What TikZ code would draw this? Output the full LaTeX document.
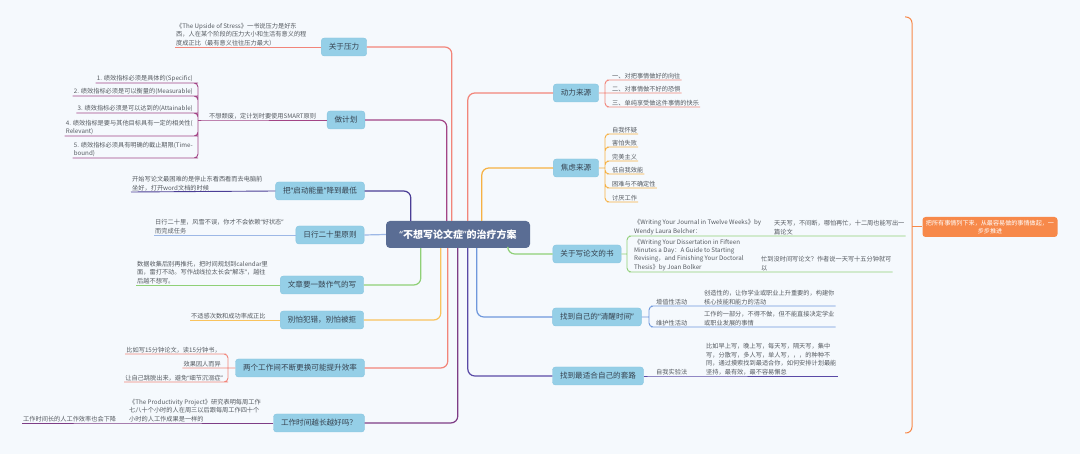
\documentclass[tikz,border=0pt]{standalone}
\usepackage{fontspec}
\setmainfont{Noto Sans CJK SC}
\newfontfamily\quotefont{Noto Sans}
\newcommand{\qopen}{{\quotefont “}}
\newcommand{\qclose}{{\quotefont ”}}
\usepackage{tikz}
\definecolor{bgcol}{HTML}{F5F9FD}
\definecolor{centerfill}{HTML}{5A6D94}
\definecolor{topicfill}{HTML}{95CFE7}
\definecolor{topicedge}{HTML}{86C4DF}
\definecolor{topictext}{HTML}{36424F}
\definecolor{leaftext}{HTML}{555A60}
\definecolor{salmonc}{HTML}{F2857A}
\definecolor{magentac}{HTML}{A24586}
\definecolor{navyc}{HTML}{4B3E96}
\definecolor{skyc}{HTML}{9DB8E6}
\definecolor{greenc}{HTML}{8FD077}
\definecolor{yellowc}{HTML}{F9C35E}
\definecolor{orangec}{HTML}{F6B143}
\definecolor{bluec}{HTML}{6F98DC}
\definecolor{indigoc}{HTML}{5A4AA6}
\definecolor{purplec}{HTML}{7E3D86}
\definecolor{sumc}{HTML}{F7894A}

\begin{document}
\begin{tikzpicture}[x=1pt,y=-1pt,
  topic/.style={fill=topicfill,draw=topicedge,line width=0.4pt,rounded corners=3pt,minimum height=18pt,inner xsep=7.5pt,inner ysep=2pt,text=topictext,font=\fontsize{7.6}{9}\selectfont},
  leaf/.style={inner sep=1pt,align=left,text=leaftext,font=\fontsize{6.2}{8.4}\selectfont},
  branch/.style={line width=1.2pt,rounded corners=7pt},
  twig/.style={line width=0.9pt,rounded corners=4pt}]
\fill[bgcol] (0,0) rectangle (1080,454);
\node[fill=centerfill,rounded corners=4pt,minimum width=144pt,minimum height=27pt,text=white,font=\fontsize{10}{12}\selectfont\bfseries] (c) at (458,234.5) {\qopen 不想写论文症\qclose 的治疗方案};

% left side
\node[topic] (yl) at (344,47) {关于压力};
\node[leaf,anchor=south west] (yl1) at (175,47) {《The Upside of Stress》一书说压力是好东\\西，人在某个阶段的压力大小和生活有意义的程\\度成正比（最有意义往往压力最大）};
\draw[branch,salmonc] ([xshift=66pt]c.north west) |- (yl.east);
\draw[twig,salmonc] (yl.west) -- (yl1.south west);

\node[topic] (jh) at (346,120) {做计划};
\node[leaf,anchor=south west] (j0) at (208,120) {不想颓废，定计划时要使用SMART原则};
\coordinate (jb) at (198,120);
\node[leaf,anchor=south east] (j1) at (194,83) {1. 绩效指标必须是具体的(Specific)};
\node[leaf,anchor=south east] (j2) at (194,96) {2. 绩效指标必须是可以衡量的(Measurable)};
\node[leaf,anchor=south east] (j3) at (194,113) {3. 绩效指标必须是可以达到的(Attainable)};
\node[leaf,anchor=south east] (j4) at (194,136) {4. 绩效指标是要与其他目标具有一定的相关性(\\Relevant)};
\node[leaf,anchor=south east] (j5) at (194,158) {5. 绩效指标必须具有明确的截止期限(Time-\\bound)};
\draw[branch,magentac] ([xshift=61pt]c.north west) |- (jh.east);
\draw[twig,magentac] (jh.west) -- (j0.south west) -- (jb);
\draw[twig,magentac] (jb) |- (j1.south east) -- (j1.south west) (jb) |- (j2.south east) -- (j2.south west)
  (jb) |- (j3.south east) -- (j3.south west) (jb) |- (j4.south east) -- (j4.south west)
  (jb) |- (j5.south east) -- (j5.south west);

\node[topic] (qd) at (320,191) {把\qopen 启动能量\qclose 降到最低};
\node[leaf,anchor=south west] (qd1) at (131,192) {开始写论文最困难的是停止东看西看而去电脑前\\坐好，打开word文档的时候};
\draw[branch,navyc] ([xshift=25pt]c.north west) |- (qd.east);
\draw[twig,navyc] (qd.west) -- (qd1.south west);

\node[topic] (rx) at (330,235) {日行二十里原则};
\node[leaf,anchor=south west] (rx1) at (154,235) {日行二十里，风雪不误，你才不会依赖\qopen 好状态\qclose\\而完成任务};
\draw[branch,skyc] (c.west) -- (rx.east);
\draw[twig,skyc] (rx.west) -- (rx1.south west);

\node[topic] (wz) at (322,285) {文章要一鼓作气的写};
\node[leaf,anchor=south west] (wz1) at (136,285) {数据收集后别再推托，把时间规划到calendar里\\面，雷打不动。写作战线拉太长会\qopen 解冻\qclose ，越往\\后越不想写。};
\draw[branch,greenc] ([xshift=35pt]c.south west) |- (wz.east);
\draw[twig,greenc] (wz.west) -- (wz1.south west);

\node[topic] (bp) at (322,320) {别怕犯错，别怕被拒};
\node[leaf,anchor=south west] (bp1) at (190,320) {不适感次数和成功率成正比};
\draw[branch,yellowc] ([xshift=55pt]c.south west) |- (bp.east);
\draw[twig,yellowc] (bp.west) -- (bp1.south west);

\node[topic] (lg) at (300,368) {两个工作间不断更换可能提升效率};
\coordinate (lb) at (228,368);
\node[leaf,anchor=south east] (lg1) at (222,354) {比如写15分钟论文，读15分钟书，};
\node[leaf,anchor=south east] (lg2) at (222,368) {效果因人而异};
\node[leaf,anchor=south east] (lg3) at (224,382) {让自己跳脱出来，避免\qopen 细节沉溺症\qclose};
\draw[branch,salmonc] ([xshift=62pt]c.south west) |- (lg.east);
\draw[twig,salmonc] (lg.west) -- (lb) (lb) |- (lg1.south east) -- (lg1.south west)
  (lb) -- (lg2.south east) -- (lg2.south west) (lb) |- (lg3.south east) -- (lg3.south west);

\node[topic] (gz) at (319,423) {工作时间越长越好吗？};
\node[leaf,anchor=south west] (gz1) at (128,423) {《The Productivity Project》研究表明每周工作\\七八十个小时的人在周三以后跟每周工作四十个\\小时的人工作成果是一样的};
\node[leaf,anchor=south west] (gz2) at (22,423) {工作时间长的人工作效率也会下降};
\draw[branch,purplec] ([xshift=72pt]c.south west) |- (gz.east);
\draw[twig,purplec] (gz.west) -- (gz1.south west) -- (gz2.south west);

% right side
\node[topic] (dl) at (576,93) {动力来源};
\coordinate (dlb) at (605,93);
\node[leaf,anchor=south west] (dl1) at (611,80) {一、对把事情做好的向往};
\node[leaf,anchor=south west] (dl2) at (611,93) {二、对事情做不好的恐惧};
\node[leaf,anchor=south west] (dl3) at (611,107) {三、单纯享受做这件事情的快乐};
\draw[branch,salmonc] ([xshift=82pt]c.north west) |- (dl.west);
\draw[twig,salmonc] (dl.east) -- (dlb) (dlb) |- (dl1.south west) -- (dl1.south east)
  (dlb) -- (dl2.south west) -- (dl2.south east) (dlb) |- (dl3.south west) -- (dl3.south east);

\node[topic] (jl) at (576,168) {焦虑来源};
\coordinate (jlb) at (605,168);
\node[leaf,anchor=south west] (jl1) at (611,134) {自我怀疑};
\node[leaf,anchor=south west] (jl2) at (611,147) {害怕失败};
\node[leaf,anchor=south west] (jl3) at (611,161) {完美主义};
\node[leaf,anchor=south west] (jl4) at (611,174) {低自我效能};
\node[leaf,anchor=south west] (jl5) at (611,188) {困难与不确定性};
\node[leaf,anchor=south west] (jl6) at (611,202) {讨厌工作};
\draw[branch,orangec] ([xshift=96pt]c.north west) |- (jl.west);
\draw[twig,orangec] (jl.east) -- (jlb) (jlb) |- (jl1.south west) -- (jl1.south east)
  (jlb) |- (jl2.south west) -- (jl2.south east) (jlb) |- (jl3.south west) -- (jl3.south east)
  (jlb) |- (jl4.south west) -- (jl4.south east) (jlb) |- (jl5.south west) -- (jl5.south east)
  (jlb) |- (jl6.south west) -- (jl6.south east);

\node[topic] (gs) at (587,254) {关于写论文的书};
\coordinate (gsb) at (627,254);
\node[leaf,anchor=south west] (gs1) at (633,236) {《Writing Your Journal in Twelve Weeks》by\\Wendy Laura Belcher：};
\node[leaf,anchor=south west] (gs1a) at (773,236) {天天写，不间断，哪怕再忙，十二周也能写出一\\篇论文};
\node[leaf,anchor=south west] (gs2) at (633,272) {《Writing Your Dissertation in Fifteen\\Minutes a Day：A Guide to Starting\\Revising，and Finishing Your Doctoral\\Thesis》by Joan Bolker};
\node[leaf,anchor=south west] (gs2a) at (760,272) {忙到没时间写论文？作者说一天写十五分钟就可\\以};
\draw[branch,greenc] ([xshift=122pt]c.south west) |- (gs.west);
\draw[twig,greenc] (gs.east) -- (gsb) (gsb) |- (gs1.south west) -- (gs1a.south east)
  (gsb) |- (gs2.south west) -- (gs2a.south east);

\node[topic] (qx) at (597,317) {找到自己的\qopen 清醒时间\qclose};
\coordinate (qxb) at (649,317);
\node[leaf,anchor=south west] (qx1) at (655,306) {增值性活动};
\node[leaf,anchor=south west] (qx1a) at (703,306) {创造性的，让你学业或职业上升重要的，构建你\\核心技能和能力的活动};
\node[leaf,anchor=south west] (qx2) at (655,327) {维护性活动};
\node[leaf,anchor=south west] (qx2a) at (703,327) {工作的一部分，不得不做，但不能直接决定学业\\或职业发展的事情};
\draw[branch,bluec] ([xshift=91pt]c.south west) |- (qx.west);
\draw[twig,bluec] (qx.east) -- (qxb) (qxb) |- (qx1.south west) -- (qx1a.south east)
  (qxb) |- (qx2.south west) -- (qx2a.south east);

\node[topic] (tl) at (598,376) {找到最适合自己的套路};
\node[leaf,anchor=south west] (tl1) at (655,376) {自我实验法};
\node[leaf,anchor=south west] (tl1a) at (705,376) {比如早上写，晚上写，每天写，隔天写，集中\\写，分散写，多人写，单人写，，，的种种不\\同，通过摸索找到最适合你，如何安排计划最能\\坚持，最有效，最不容易懈怠};
\draw[branch,indigoc] ([xshift=82pt]c.south west) |- (tl.west);
\draw[twig,indigoc] (tl.east) -- (tl1.south west) -- (tl1a.south east);

% summary
\node[fill=sumc,rounded corners=3pt,text=white,align=center,minimum width=135pt,minimum height=20pt,inner sep=2pt,font=\fontsize{6.1}{8}\selectfont] (zj) at (990,227) {把所有事情列下来，从最容易做的事情做起，一\\步步推进};
\coordinate (s1) at (905,17);
\coordinate (s2) at (912,227);
\coordinate (s3) at (905,433);
\draw[sumc,line width=1pt,rounded corners=6pt] (s1) -| (s2) |- (s3);
\draw[sumc,line width=1pt] (s2) -- (zj.west);
\end{tikzpicture}
\end{document}
